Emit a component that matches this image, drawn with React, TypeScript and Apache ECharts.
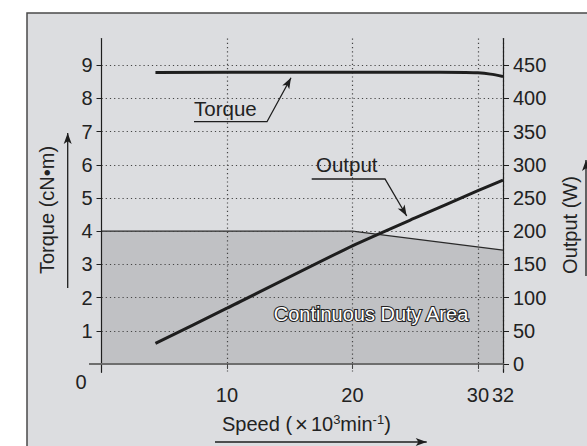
import React, { useEffect, useRef } from "react";
import * as echarts from "echarts";

// ---- data ----
const speedTicks = [10, 20, 30, 32];
const torqueTicks = [0, 1, 2, 3, 4, 5, 6, 7, 8, 9];
const outputTicks = [0, 50, 100, 150, 200, 250, 300, 350, 400, 450];

const torqueSpeed = [4.3, 15, 25, 29, 30, 31, 32];
const torqueValue = [8.78, 8.79, 8.79, 8.78, 8.77, 8.73, 8.66];

const outputSpeed = [4.3, 10, 20, 25, 30, 32];
const outputValue = [31, 84, 178, 220, 261, 277];

const dutySpeed = [0, 20, 32];
const dutyTorque = [4, 4, 3.43];

const FONT = '"Liberation Sans", Arial, Helvetica, sans-serif';
const INK = "#1e1e1e";

function head(tip: number[], from: number[], len = 11, half = 4) {
  const dx = tip[0] - from[0];
  const dy = tip[1] - from[1];
  const d = Math.hypot(dx, dy);
  const ux = dx / d;
  const uy = dy / d;
  const bx = tip[0] - ux * len;
  const by = tip[1] - uy * len;
  return [
    [tip[0], tip[1]],
    [bx - uy * half, by + ux * half],
    [tip[0] - ux * len * 0.75, tip[1] - uy * len * 0.75],
    [bx + uy * half, by - ux * half],
  ];
}

function arrowLine(pts: number[][]) {
  const tip = pts[pts.length - 1];
  const prev = pts[pts.length - 2];
  return [
    {
      type: "polyline",
      z: 100,
      shape: { points: pts },
      style: { stroke: INK, lineWidth: 1.3, fill: "none" },
    },
    {
      type: "polygon",
      z: 100,
      shape: { points: head(tip, prev) },
      style: { fill: INK },
    },
  ];
}

export default function App() {
  const ref = useRef<HTMLDivElement>(null);
  useEffect(() => {
    if (!ref.current) return;
    const chart = echarts.init(ref.current, undefined, { renderer: "svg" });
    const option: any = {
      animation: false,
      backgroundColor: "#ffffff",
      textStyle: { fontFamily: FONT },
      grid: { left: 101.5, right: 84, top: 38.6, bottom: 73.7, containLabel: false },
      xAxis: {
        type: "value",
        min: 0,
        max: 32,
        axisLine: { onZero: true, lineStyle: { color: "#6e6e6e", width: 2 } },
        axisTick: {
          customValues: speedTicks,
          length: 5,
          inside: false,
          lineStyle: { color: "#444", width: 1 },
        },
        axisLabel: {
          customValues: speedTicks,
          fontSize: 20,
          color: "#222",
          margin: 13,
          fontFamily: FONT,
        },
        splitLine: {
          show: true,
          lineStyle: { color: "#444", width: 1.2, type: [1.2, 3] },
        },
      },
      yAxis: [
        {
          type: "value",
          min: -0.25,
          max: 9.8,
          axisLine: { show: true, onZero: true, lineStyle: { color: INK, width: 1.2 } },
          axisTick: {
            show: true,
            customValues: torqueTicks,
            length: 5,
            lineStyle: { color: INK, width: 1 },
          },
          axisLabel: {
            customValues: torqueTicks,
            fontSize: 20,
            color: "#222",
            margin: 9,
            fontFamily: FONT,
            formatter: (v: number) => (v === 0 ? "{z|0}" : String(v)),
            rich: {
              z: { fontSize: 20, color: "#222", fontFamily: FONT, padding: [36, 6, 0, 0] },
            },
          },
          splitLine: {
            show: true,
            lineStyle: { color: "#444", width: 1.2, type: [1.2, 3] },
          },
        },
        {
          type: "value",
          position: "right",
          min: -12.5,
          max: 490,
          axisLine: { show: true, onZero: false, lineStyle: { color: INK, width: 1.2 } },
          axisTick: {
            show: true,
            customValues: outputTicks,
            length: 6,
            lineStyle: { color: INK, width: 1 },
          },
          axisLabel: {
            customValues: outputTicks,
            fontSize: 20,
            color: "#222",
            margin: 10,
            fontFamily: FONT,
          },
          splitLine: { show: false },
        },
      ],
      series: [
        {
          type: "line",
          z: -1,
          xAxisIndex: 0,
          yAxisIndex: 0,
          data: dutySpeed.map((s, i) => [s, dutyTorque[i]]),
          symbol: "none",
          lineStyle: { color: "#2a2a2a", width: 1.3 },
          areaStyle: { color: "#c0c1c4", opacity: 1 },
        },
        {
          type: "line",
          yAxisIndex: 0,
          data: torqueSpeed.map((s, i) => [s, torqueValue[i]]),
          symbol: "none",
          smooth: 0.3,
          lineStyle: { color: INK, width: 3 },
        },
        {
          type: "line",
          yAxisIndex: 1,
          data: outputSpeed.map((s, i) => [s, outputValue[i]]),
          symbol: "none",
          smooth: 0.2,
          lineStyle: { color: INK, width: 3 },
        },
      ],
      graphic: [
        {
          type: "rect",
          z: -100,
          silent: true,
          shape: { x: 27, y: 13, width: 600, height: 470 },
          style: { fill: "#dcdde0", stroke: "#4a4a4a", lineWidth: 1.5 },
        },
        {
          type: "line",
          z: 100,
          shape: { x1: 89, y1: 364, x2: 101.5, y2: 364 },
          style: { stroke: "#6e6e6e", lineWidth: 2 },
        },
        {
          type: "text",
          z: 100,
          x: 194,
          y: 108,
          style: {
            text: "Torque",
            font: `20.5px ${FONT}`,
            fill: "#222",
            verticalAlign: "middle",
            align: "left",
          },
        },
        ...arrowLine([
          [194, 121.7],
          [267, 121.7],
          [291, 77.7],
        ]),
        {
          type: "text",
          z: 100,
          x: 316,
          y: 164,
          style: {
            text: "Output",
            font: `20.5px ${FONT}`,
            fill: "#222",
            verticalAlign: "middle",
            align: "left",
          },
        },
        ...arrowLine([
          [311.7, 179],
          [385, 179],
          [406.7, 216],
        ]),
        {
          type: "text",
          z: 100,
          x: 371,
          y: 314,
          style: {
            text: "Continuous Duty Area",
            font: `20px ${FONT}`,
            fill: "#222",
            stroke: "#222",
            lineWidth: 2.2,
            verticalAlign: "middle",
            align: "center",
          },
        },
        {
          type: "text",
          z: 101,
          x: 371,
          y: 314,
          style: {
            text: "Continuous Duty Area",
            font: `20px ${FONT}`,
            fill: "#ffffff",
            verticalAlign: "middle",
            align: "center",
          },
        },
        {
          type: "text",
          z: 100,
          x: 47,
          y: 210,
          rotation: Math.PI / 2,
          style: {
            text: "Torque (cN•m)",
            font: `20px ${FONT}`,
            fill: "#222",
            verticalAlign: "middle",
            align: "center",
          },
        },
        ...arrowLine([
          [67.7, 288],
          [67.7, 133],
        ]),
        {
          type: "text",
          z: 100,
          x: 570,
          y: 225,
          rotation: Math.PI / 2,
          style: {
            text: "Output (W)",
            font: `20px ${FONT}`,
            fill: "#222",
            verticalAlign: "middle",
            align: "center",
          },
        },
        ...arrowLine([
          [586, 276],
          [586, 160],
        ]),
        {
          type: "text",
          z: 100,
          x: 222,
          y: 424,
          style: {
            text: "{a|Speed (}{x|×}{a|10}{s|3}{a|min}{s|-1}{a|)}",
            verticalAlign: "middle",
            align: "left",
            rich: {
              a: { fontSize: 20, fontFamily: FONT, fill: "#222" },
              x: { fontSize: 22, fontFamily: FONT, fill: "#222", padding: [0, 3, 0, 3] },
              s: { fontSize: 13, fontFamily: FONT, fill: "#222", padding: [0, 0, 10, 0] },
            },
          },
        },
        ...arrowLine([
          [215, 442],
          [426.7, 442],
        ]),
      ],
    };
    chart.setOption(option);
    return () => chart.dispose();
  }, []);
  return (
    <div
      ref={ref}
      style={{ position: "fixed", left: 0, top: 0, width: 587, height: 446 }}
    />
  );
}
